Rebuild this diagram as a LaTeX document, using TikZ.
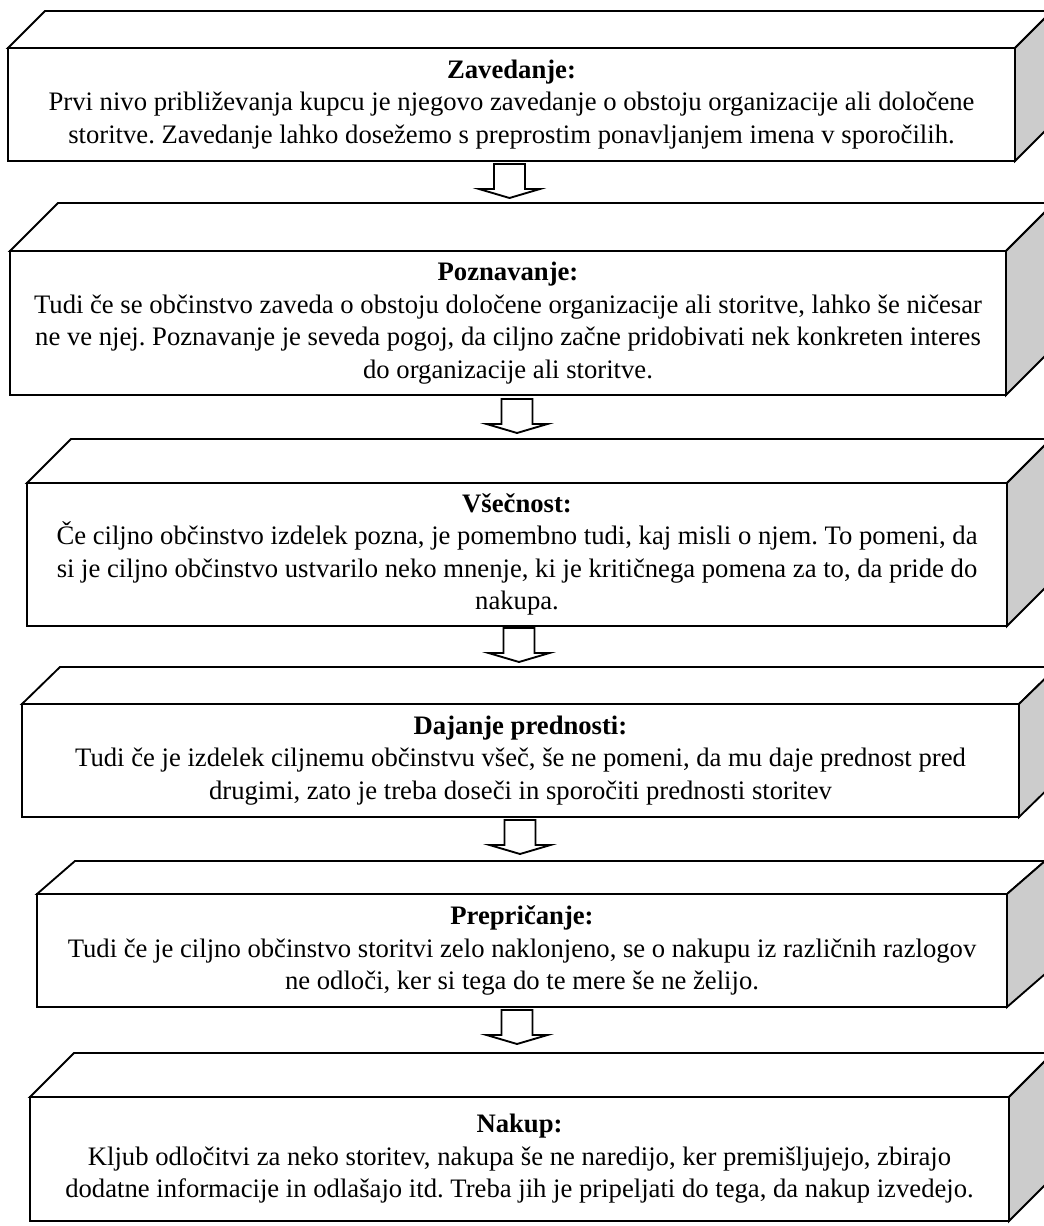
\documentclass[tikz,border=0pt]{standalone}
\usepackage{fontspec}
\setmainfont{Liberation Serif}
\frenchspacing

% One stage: a 3-D slab with a white front, white top and grey right side.
% #1 name, #2 left x, #3 top y, #4 right x, #5 bottom y, #6 depth x, #7 depth y, #8 text
\newcommand\stagebox[8]{%
  \draw[topface] (#2,#3) -- ({#2+#6},{#3-#7}) -- ({#4+#6},{#3-#7}) -- (#4,#3) -- cycle;
  \draw[sideface] (#4,#3) -- ({#4+#6},{#3-#7}) -- ({#4+#6},{#5-#7}) -- (#4,#5) -- cycle;
  \node[frontface, minimum width={0.75pt*(#4-#2)}, minimum height={0.75pt*(#5-#3)}]
    (#1) at ({(#2+#4)/2},{(#3+#5)/2}) {#8};
}

% Hollow block arrow pointing down; #1 name, #2 centre x, #3 top y
\newcommand\downblock[3]{%
  \coordinate (#1) at (#2,#3);
  \draw[blockarrow] ([shift={(-15.5,0)}]#1) -- ([shift={(-15.5,25)}]#1)
    -- ([shift={(-30.5,25)}]#1) -- ([shift={(0,34)}]#1)
    -- ([shift={(30.5,25)}]#1) -- ([shift={(15.5,25)}]#1)
    -- ([shift={(15.5,0)}]#1) -- cycle;
}

\tikzset{
  edge/.style={draw=black, line width=1.4pt, line join=miter},
  topface/.style={edge, fill=white},
  sideface/.style={edge, fill=sidegrey},
  frontface/.style={edge, fill=white, inner sep=0pt, outer sep=0pt,
    align=center, font=\fontsize{20}{24.4}\selectfont},
  blockarrow/.style={edge, fill=white},
}
\definecolor{sidegrey}{RGB}{204,204,204}

\begin{document}
\begin{tikzpicture}[x=0.75pt, y=-0.75pt]
\useasboundingbox (0,0) rectangle (1044,1226);

\stagebox{zavedanje}{8}{48}{1015}{161}{37}{37}{%
  \textbf{Zavedanje:}\\
  Prvi nivo približevanja kupcu je njegovo zavedanje o obstoju organizacije ali določene\\
  storitve. Zavedanje lahko dosežemo s preprostim ponavljanjem imena v sporočilih.}

\stagebox{poznavanje}{10}{251}{1006}{395}{48}{48}{%
  \textbf{Poznavanje:}\\
  Tudi če se občinstvo zaveda o obstoju določene organizacije ali storitve, lahko še ničesar\\
  ne ve njej. Poznavanje je seveda pogoj, da ciljno začne pridobivati nek konkreten interes\\
  do organizacije ali storitve.}

\stagebox{vsecnost}{27}{483}{1007}{626}{44}{44}{%
  \textbf{Všečnost:}\\
  Če ciljno občinstvo izdelek pozna, je pomembno tudi, kaj misli o njem. To pomeni, da\\
  si je ciljno občinstvo ustvarilo neko mnenje, ki je kritičnega pomena za to, da pride do\\
  nakupa.}

\stagebox{prednost}{22}{704}{1019}{817}{38}{37}{%
  \textbf{Dajanje prednosti:}\\
  Tudi če je izdelek ciljnemu občinstvu všeč, še ne pomeni, da mu daje prednost pred\\
  drugimi, zato je treba doseči in sporočiti prednosti storitev}

\stagebox{prepricanje}{37}{894}{1007}{1007}{38}{33}{%
  \textbf{Prepričanje:}\\
  Tudi če je ciljno občinstvo storitvi zelo naklonjeno, se o nakupu iz različnih razlogov\\
  ne odloči, ker si tega do te mere še ne želijo.}

\stagebox{nakup}{30}{1097}{1009}{1221}{44}{44}{%
  \textbf{Nakup:}\\
  Kljub odločitvi za neko storitev, nakupa še ne naredijo, ker premišljujejo, zbirajo\\
  dodatne informacije in odlašajo itd. Treba jih je pripeljati do tega, da nakup izvedejo.}

\downblock{a1}{509.5}{164}
\downblock{a2}{517}{399}
\downblock{a3}{519}{628}
\downblock{a4}{520}{820}
\downblock{a5}{517}{1010}
\end{tikzpicture}
\end{document}
